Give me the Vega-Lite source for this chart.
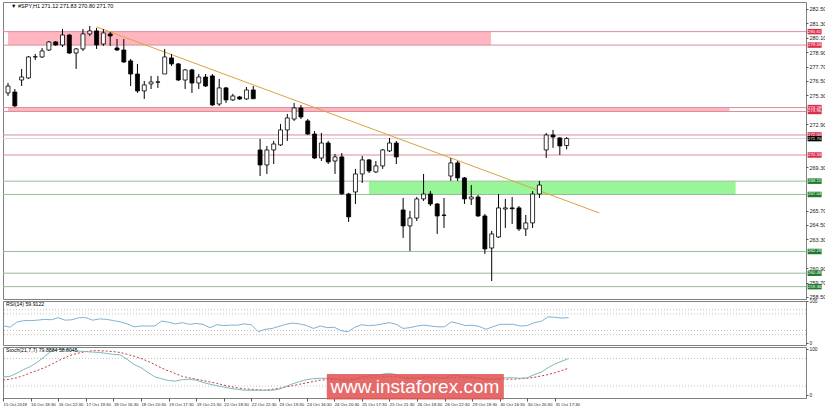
{
  "$schema": "https://vega.github.io/schema/vega-lite/v6.json",
  "padding": {"left": 2, "top": 1, "right": 0, "bottom": 0},
  "autosize": {"type": "pad"},
  "background": "white",
  "spacing": 2,
  "bounds": "flush",
  "config": {
    "font": "Liberation Sans",
    "view": {"stroke": "#808080", "strokeWidth": 1},
    "axis": {"labelFont": "Liberation Sans", "labelFontSize": 5.5, "labelColor": "#222222", "tickColor": "#555555", "tickSize": 2, "labelPadding": 1, "domain": false, "grid": false, "labelOverlap": false, "labelBound": false, "labelFlush": false},
    "axisY": {"labelOverlap": false},
    "axisRight": {"labelOverlap": false},
    "axisQuantitative": {"labelOverlap": false}
  },
  "datasets": {
    "candles": [
      {"i":0,"o":275.5,"h":276.33,"l":275.25,"c":276.08},
      {"i":1,"o":275.58,"h":275.83,"l":274.33,"c":274.42},
      {"i":2,"o":276.58,"h":277.5,"l":276.08,"c":276.83},
      {"i":3,"o":276.75,"h":278.58,"l":276.67,"c":278.5},
      {"i":4,"o":278.5,"h":278.75,"l":278.25,"c":278.52},
      {"i":5,"o":278.5,"h":279.25,"l":278.42,"c":279.0},
      {"i":6,"o":279.08,"h":279.83,"l":279.0,"c":279.75},
      {"i":7,"o":279.75,"h":279.83,"l":279.42,"c":279.5},
      {"i":8,"o":279.5,"h":280.83,"l":279.33,"c":280.33},
      {"i":9,"o":280.33,"h":280.42,"l":278.75,"c":278.83},
      {"i":10,"o":278.83,"h":279.25,"l":277.5,"c":279.17},
      {"i":11,"o":279.17,"h":280.83,"l":279.0,"c":280.42},
      {"i":12,"o":280.42,"h":281.08,"l":280.25,"c":280.67},
      {"i":13,"o":280.67,"h":280.92,"l":279.17,"c":279.5},
      {"i":14,"o":279.58,"h":280.83,"l":279.42,"c":280.5},
      {"i":15,"o":280.42,"h":280.58,"l":279.42,"c":280.25},
      {"i":16,"o":279.25,"h":280.0,"l":279.0,"c":279.08},
      {"i":17,"o":279.08,"h":280.0,"l":278.0,"c":278.08},
      {"i":18,"o":278.17,"h":278.33,"l":276.08,"c":277.08},
      {"i":19,"o":277.08,"h":277.92,"l":275.5,"c":275.67},
      {"i":20,"o":275.67,"h":276.5,"l":275.0,"c":276.17},
      {"i":21,"o":276.25,"h":276.92,"l":275.83,"c":276.42},
      {"i":22,"o":276.42,"h":276.92,"l":275.92,"c":276.4},
      {"i":23,"o":277.08,"h":279.17,"l":277.08,"c":278.5},
      {"i":24,"o":278.42,"h":278.75,"l":277.75,"c":277.92},
      {"i":25,"o":277.92,"h":278.0,"l":276.5,"c":276.58},
      {"i":26,"o":276.58,"h":277.5,"l":275.83,"c":277.42},
      {"i":27,"o":277.42,"h":277.5,"l":275.5,"c":276.33},
      {"i":28,"o":276.33,"h":277.08,"l":275.83,"c":276.83},
      {"i":29,"o":276.83,"h":277.08,"l":276.0,"c":276.08},
      {"i":30,"o":276.92,"h":277.08,"l":274.42,"c":274.5},
      {"i":31,"o":274.58,"h":276.67,"l":274.42,"c":275.92},
      {"i":32,"o":275.92,"h":276.0,"l":274.67,"c":274.92},
      {"i":33,"o":274.92,"h":275.42,"l":274.83,"c":275.25},
      {"i":34,"o":275.17,"h":275.25,"l":274.92,"c":275.0},
      {"i":35,"o":275.0,"h":276.0,"l":274.92,"c":275.75},
      {"i":36,"o":275.75,"h":276.08,"l":275.0,"c":275.02},
      {"i":37,"o":270.75,"h":271.67,"l":268.58,"c":269.5},
      {"i":38,"o":269.5,"h":271.08,"l":268.75,"c":270.75},
      {"i":39,"o":270.75,"h":271.5,"l":269.58,"c":271.25},
      {"i":40,"o":271.17,"h":272.92,"l":271.08,"c":272.42},
      {"i":41,"o":272.42,"h":273.75,"l":271.5,"c":273.42},
      {"i":42,"o":273.33,"h":274.67,"l":273.17,"c":274.25},
      {"i":43,"o":274.25,"h":274.5,"l":273.33,"c":273.5},
      {"i":44,"o":273.17,"h":273.33,"l":272.0,"c":272.08},
      {"i":45,"o":272.08,"h":272.33,"l":270.0,"c":270.08},
      {"i":46,"o":270.08,"h":272.17,"l":269.83,"c":271.33},
      {"i":47,"o":271.33,"h":271.5,"l":269.58,"c":269.75},
      {"i":48,"o":269.83,"h":270.42,"l":268.75,"c":270.17},
      {"i":49,"o":270.17,"h":270.5,"l":267.0,"c":267.1},
      {"i":50,"o":267.08,"h":267.17,"l":264.75,"c":265.17},
      {"i":51,"o":267.25,"h":269.17,"l":266.25,"c":268.75},
      {"i":52,"o":268.75,"h":270.25,"l":268.0,"c":269.92},
      {"i":53,"o":269.92,"h":270.0,"l":268.83,"c":269.0},
      {"i":54,"o":268.92,"h":269.83,"l":268.83,"c":269.42},
      {"i":55,"o":269.42,"h":270.83,"l":269.17,"c":270.75},
      {"i":56,"o":270.67,"h":271.75,"l":270.58,"c":271.33},
      {"i":57,"o":271.33,"h":271.5,"l":269.58,"c":270.17},
      {"i":58,"o":265.75,"h":266.75,"l":263.42,"c":264.42},
      {"i":59,"o":264.42,"h":265.67,"l":262.33,"c":265.08},
      {"i":60,"o":265.08,"h":266.83,"l":264.83,"c":266.67},
      {"i":61,"o":266.67,"h":268.75,"l":266.5,"c":267.08},
      {"i":62,"o":267.08,"h":267.33,"l":266.08,"c":266.25},
      {"i":63,"o":266.25,"h":266.33,"l":263.75,"c":265.25},
      {"i":64,"o":265.33,"h":266.75,"l":264.25,"c":265.3},
      {"i":65,"o":268.58,"h":270.08,"l":268.17,"c":269.67},
      {"i":66,"o":269.67,"h":269.83,"l":268.17,"c":268.42},
      {"i":67,"o":268.42,"h":268.5,"l":266.25,"c":266.67},
      {"i":68,"o":266.67,"h":267.83,"l":266.17,"c":266.83},
      {"i":69,"o":266.83,"h":267.0,"l":265.17,"c":265.25},
      {"i":70,"o":265.25,"h":265.42,"l":262.08,"c":262.5},
      {"i":71,"o":262.58,"h":264.0,"l":259.83,"c":263.75},
      {"i":72,"o":263.5,"h":267.08,"l":263.42,"c":265.92},
      {"i":73,"o":265.83,"h":266.67,"l":264.25,"c":265.92},
      {"i":74,"o":265.92,"h":266.83,"l":264.58,"c":265.85},
      {"i":75,"o":265.92,"h":266.08,"l":264.0,"c":264.17},
      {"i":76,"o":264.17,"h":265.33,"l":263.58,"c":264.67},
      {"i":77,"o":264.67,"h":267.33,"l":264.25,"c":267.08},
      {"i":78,"o":267.08,"h":268.17,"l":266.75,"c":267.83},
      {"i":79,"o":270.75,"h":272.17,"l":270.08,"c":272.0},
      {"i":80,"o":272.0,"h":272.42,"l":270.92,"c":271.83},
      {"i":81,"o":271.75,"h":271.83,"l":270.33,"c":271.08},
      {"i":82,"o":271.12,"h":271.83,"l":270.8,"c":271.7}
    ],
    "ind": [
      {"i":0,"rsi":42,"k":40,"d":33},{"i":1,"rsi":38,"k":41,"d":35},{"i":2,"rsi":50,"k":48,"d":38},{"i":3,"rsi":54,"k":56,"d":43},{"i":4,"rsi":54,"k":63,"d":49},
      {"i":5,"rsi":55,"k":72,"d":54},{"i":6,"rsi":57,"k":84,"d":60},{"i":7,"rsi":56,"k":96,"d":67},{"i":8,"rsi":61,"k":100,"d":75},{"i":9,"rsi":55,"k":99,"d":82},
      {"i":10,"rsi":56,"k":98,"d":88},{"i":11,"rsi":61,"k":96,"d":92},{"i":12,"rsi":61,"k":95,"d":95},{"i":13,"rsi":55,"k":94,"d":97},{"i":14,"rsi":58,"k":93,"d":97},
      {"i":15,"rsi":57,"k":91,"d":96},{"i":16,"rsi":54,"k":89,"d":95},{"i":17,"rsi":51,"k":88,"d":93},{"i":18,"rsi":46,"k":78,"d":89},{"i":19,"rsi":39,"k":67,"d":85},
      {"i":20,"rsi":41,"k":60,"d":80},{"i":21,"rsi":41,"k":50,"d":74},{"i":22,"rsi":41,"k":40,"d":67},{"i":23,"rsi":53,"k":36,"d":59},{"i":24,"rsi":50,"k":32,"d":53},
      {"i":25,"rsi":46,"k":31,"d":47},{"i":26,"rsi":49,"k":34,"d":41},{"i":27,"rsi":45,"k":35,"d":38},{"i":28,"rsi":47,"k":33,"d":35},{"i":29,"rsi":45,"k":28,"d":32},
      {"i":30,"rsi":37,"k":24,"d":29},{"i":31,"rsi":44,"k":21,"d":26},{"i":32,"rsi":42,"k":18,"d":22},{"i":33,"rsi":43,"k":15,"d":19},{"i":34,"rsi":43,"k":13,"d":16},
      {"i":35,"rsi":46,"k":11,"d":14},{"i":36,"rsi":44,"k":11,"d":13},{"i":37,"rsi":27,"k":11,"d":12},{"i":38,"rsi":33,"k":11,"d":11},{"i":39,"rsi":35,"k":11,"d":13},
      {"i":40,"rsi":40,"k":13,"d":15},{"i":41,"rsi":45,"k":19,"d":18},{"i":42,"rsi":48,"k":25,"d":21},{"i":43,"rsi":46,"k":30,"d":24},{"i":44,"rsi":42,"k":34,"d":27},
      {"i":45,"rsi":35,"k":36,"d":30},{"i":46,"rsi":41,"k":37,"d":33},{"i":47,"rsi":37,"k":37,"d":34},{"i":48,"rsi":38,"k":36,"d":35},{"i":49,"rsi":30,"k":32,"d":35},
      {"i":50,"rsi":27,"k":30,"d":35},{"i":51,"rsi":38,"k":35,"d":36},{"i":52,"rsi":44,"k":40,"d":37},{"i":53,"rsi":42,"k":42,"d":38},{"i":54,"rsi":43,"k":43,"d":39},
      {"i":55,"rsi":46,"k":46,"d":40},{"i":56,"rsi":49,"k":48,"d":41},{"i":57,"rsi":45,"k":45,"d":40},{"i":58,"rsi":35,"k":38,"d":39},{"i":59,"rsi":37,"k":36,"d":38},
      {"i":60,"rsi":41,"k":38,"d":37},{"i":61,"rsi":43,"k":40,"d":37},{"i":62,"rsi":41,"k":40,"d":38},{"i":63,"rsi":39,"k":38,"d":38},{"i":64,"rsi":39,"k":37,"d":37},
      {"i":65,"rsi":51,"k":44,"d":38},{"i":66,"rsi":47,"k":43,"d":39},{"i":67,"rsi":42,"k":40,"d":39},{"i":68,"rsi":43,"k":40,"d":38},{"i":69,"rsi":40,"k":38,"d":37},
      {"i":70,"rsi":33,"k":33,"d":36},{"i":71,"rsi":39,"k":34,"d":35},{"i":72,"rsi":45,"k":37,"d":35},{"i":73,"rsi":45,"k":38,"d":35},{"i":74,"rsi":45,"k":38,"d":35},
      {"i":75,"rsi":41,"k":37,"d":36},{"i":76,"rsi":42,"k":38,"d":37},{"i":77,"rsi":49,"k":45,"d":39},{"i":78,"rsi":52,"k":50,"d":42},{"i":79,"rsi":63,"k":60,"d":45},
      {"i":80,"rsi":62,"k":68,"d":49},{"i":81,"rsi":60,"k":74,"d":54},{"i":82,"rsi":61,"k":79.9,"d":58.8}
    ],
    "levels": [
      {"p":280.61,"kind":"r"},{"p":279.49,"kind":"r"},{"p":274.28,"kind":"r"},{"p":273.96,"kind":"r"},
      {"p":272.0,"kind":"r"},{"p":270.33,"kind":"r"},
      {"p":268.15,"kind":"g"},{"p":267.04,"kind":"g"},{"p":262.29,"kind":"g"},{"p":260.48,"kind":"g"},{"p":259.36,"kind":"g"},
      {"p":271.70,"kind":"b"}
    ],
    "zones": [
      {"x1":0,"x2":70.9,"p1":280.61,"p2":279.49,"kind":"r"},
      {"x1":0,"x2":105.9,"p1":274.28,"p2":273.96,"kind":"r"},
      {"x1":53.0,"x2":106.8,"p1":268.15,"p2":267.04,"kind":"g"}
    ],
    "trend": [
      {"i":13.03,"p":281.0},
      {"i":86.8,"p":265.5}
    ]
  },
  "vconcat": [
    {
      "width": 803,
      "height": 297,
      "encoding": {
        "y": {"type": "quantitative", "scale": {"domain": [258.33, 283.08], "nice": false, "zero": false},
              "axis": {"orient": "right", "title": null, "format": ".2f", "labelOverlap": false, "labelFontSize": 5.5, "values": [282.5, 281.3, 280.1, 278.9, 277.7, 276.5, 275.3, 272.9, 269.3, 265.7, 264.5, 263.3, 260.9, 259.7, 258.5]}}
      },
      "layer": [
        {
          "data": {"name": "zones"},
          "mark": {"type": "rect", "clip": true},
          "encoding": {
            "x": {"field": "x1", "type": "quantitative", "scale": {"domain": [0, 116.4], "nice": false, "zero": false}, "axis": null},
            "x2": {"field": "x2"},
            "y": {"field": "p1"},
            "y2": {"field": "p2"},
            "fill": {"condition": {"test": "datum.kind == 'g'", "value": "#98F598"}, "value": "#FFB6C1"}
          }
        },
        {
          "data": {"name": "levels"},
          "mark": {"type": "rule", "strokeWidth": 1, "clip": true},
          "encoding": {
            "y": {"field": "p"},
            "stroke": {"condition": [{"test": "datum.kind == 'r'", "value": "#D98C9A"}, {"test": "datum.kind == 'g'", "value": "#98BC98"}], "value": "#D8D8D8"}
          }
        },
        {
          "data": {"name": "trend"},
          "mark": {"type": "line", "stroke": "#D9A441", "strokeWidth": 1, "clip": true},
          "encoding": {
            "x": {"field": "i", "type": "quantitative"},
            "y": {"field": "p"}
          }
        },
        {
          "data": {"name": "candles"},
          "mark": {"type": "rule", "stroke": "#000000", "strokeWidth": 1, "clip": true},
          "encoding": {
            "x": {"field": "i", "type": "quantitative"},
            "y": {"field": "l"},
            "y2": {"field": "h"}
          }
        },
        {
          "data": {"name": "candles"},
          "mark": {"type": "bar", "width": 4, "stroke": "#000000", "strokeWidth": 0.8, "clip": true},
          "encoding": {
            "x": {"field": "i", "type": "quantitative"},
            "y": {"field": "o"},
            "y2": {"field": "c"},
            "fill": {"condition": {"test": "datum.c < datum.o", "value": "#000000"}, "value": "#FFFFFF"}
          }
        },
        {
          "data": {"name": "levels"},
          "mark": {"type": "tick", "orient": "horizontal", "size": 14, "thickness": 5.5, "clip": false, "opacity": 1},
          "encoding": {
            "x": {"datum": 118.4, "type": "quantitative"},
            "y": {"field": "p"},
            "color": {"condition": [{"test": "datum.kind == 'r'", "value": "#DC2F4E"}, {"test": "datum.kind == 'g'", "value": "#1E7B2E"}], "value": "#000000"}
          }
        },
        {
          "data": {"name": "levels"},
          "mark": {"type": "text", "fontSize": 4.3, "fill": "#FFFFFF", "align": "center", "baseline": "middle", "clip": false},
          "encoding": {
            "x": {"datum": 118.4, "type": "quantitative"},
            "y": {"field": "p"},
            "text": {"field": "p", "type": "quantitative", "format": ".2f"}
          }
        },
        {
          "data": {"values": [{"t": "▼  #SPY,H1  271.12 271.83 270.80 271.70", "p": 282.78}]},
          "mark": {"type": "text", "align": "left", "baseline": "middle", "fontSize": 5.5, "fill": "#000000"},
          "encoding": {
            "x": {"datum": 0.45, "type": "quantitative"},
            "y": {"field": "p"},
            "text": {"field": "t"}
          }
        }
      ]
    },
    {
      "width": 803,
      "height": 44,
      "layer": [
        {
          "data": {"values": [{"v": 80}, {"v": 70}, {"v": 30}, {"v": 20}]},
          "mark": {"type": "rule", "stroke": "#B0B0B0", "strokeWidth": 0.8, "strokeDash": [1, 2]},
          "encoding": {
            "y": {"field": "v", "type": "quantitative", "scale": {"domain": [-4.8, 101.2], "nice": false, "zero": false},
                  "axis": {"orient": "right", "title": null, "labelOverlap": false, "labelFontSize": 4.8, "values": [100, 80, 70, 30, 20, 0]}}
          }
        },
        {
          "data": {"name": "ind"},
          "mark": {"type": "line", "stroke": "#7FB2D3", "strokeWidth": 1, "clip": true},
          "encoding": {
            "x": {"field": "i", "type": "quantitative", "scale": {"domain": [0, 116.4], "nice": false, "zero": false}, "axis": null},
            "y": {"field": "rsi", "type": "quantitative"}
          }
        },
        {
          "data": {"values": [{"t": "RSI(14) 59.9122"}]},
          "mark": {"type": "text", "align": "left", "baseline": "middle", "fontSize": 5.2, "fill": "#000000"},
          "encoding": {
            "x": {"datum": 0.45, "type": "quantitative"},
            "y": {"datum": 93, "type": "quantitative"},
            "text": {"field": "t"}
          }
        }
      ]
    },
    {
      "width": 803,
      "height": 51,
      "layer": [
        {
          "data": {"values": [{"v": 80}, {"v": 20}]},
          "mark": {"type": "rule", "stroke": "#B0B0B0", "strokeWidth": 0.8, "strokeDash": [1, 2]},
          "encoding": {
            "y": {"field": "v", "type": "quantitative", "scale": {"domain": [-5.9, 105], "nice": false, "zero": false},
                  "axis": {"orient": "right", "title": null, "labelOverlap": false, "labelFontSize": 4.8, "values": [100, 80, 20, 0]}}
          }
        },
        {
          "data": {"name": "ind"},
          "mark": {"type": "line", "stroke": "#C04040", "strokeWidth": 1, "strokeDash": [2, 2], "clip": true},
          "encoding": {
            "x": {"field": "i", "type": "quantitative", "scale": {"domain": [0, 116.4], "nice": false, "zero": false},
                  "axis": {"orient": "bottom", "title": null, "labelOverlap": false, "values": [0,4,8,12,16,20,24,28,32,36,40,44,48,52,56,60,64,68,72,76,80], "labelAlign": "left", "labelFontSize": 4.3, "tickSize": 3, "labelPadding": 1,
                    "labelExpr": "['15 Oct 2018','16 Oct 18:30','16 Oct 22:30','17 Oct 19:30','18 Oct 16:30','18 Oct 20:30','19 Oct 17:30','19 Oct 21:30','22 Oct 18:30','22 Oct 22:30','23 Oct 19:30','24 Oct 16:30','24 Oct 20:30','25 Oct 17:30','25 Oct 21:30','26 Oct 18:30','26 Oct 22:30','29 Oct 19:30','30 Oct 16:30','30 Oct 20:30','31 Oct 17:30'][round(datum.value/4)]"}},
            "y": {"field": "d", "type": "quantitative"}
          }
        },
        {
          "data": {"name": "ind"},
          "mark": {"type": "line", "stroke": "#7FB8BE", "strokeWidth": 1, "clip": true},
          "encoding": {
            "x": {"field": "i", "type": "quantitative"},
            "y": {"field": "k", "type": "quantitative"}
          }
        },
        {
          "data": {"values": [{"t": "Stoch(21,7,7) 79.8884 58.8045"}]},
          "mark": {"type": "text", "align": "left", "baseline": "middle", "fontSize": 5.2, "fill": "#000000"},
          "encoding": {
            "x": {"datum": 0.45, "type": "quantitative"},
            "y": {"datum": 98, "type": "quantitative"},
            "text": {"field": "t"}
          }
        },
        {
          "data": {"values": [{"t": "www.instaforex.com"}]},
          "mark": {"type": "rect", "fill": "#E05050", "opacity": 0.85, "clip": false},
          "encoding": {
            "x": {"datum": 46.94, "type": "quantitative"},
            "x2": {"datum": 72.6},
            "y": {"datum": 46.3, "type": "quantitative"},
            "y2": {"datum": -9}
          }
        },
        {
          "data": {"values": [{"t": "www.instaforex.com"}]},
          "mark": {"type": "text", "align": "center", "baseline": "middle", "fontSize": 19, "fill": "#FFFFFF", "clip": false},
          "encoding": {
            "x": {"datum": 59.7, "type": "quantitative"},
            "y": {"datum": 18, "type": "quantitative"},
            "text": {"field": "t"}
          }
        }
      ]
    }
  ]
}
